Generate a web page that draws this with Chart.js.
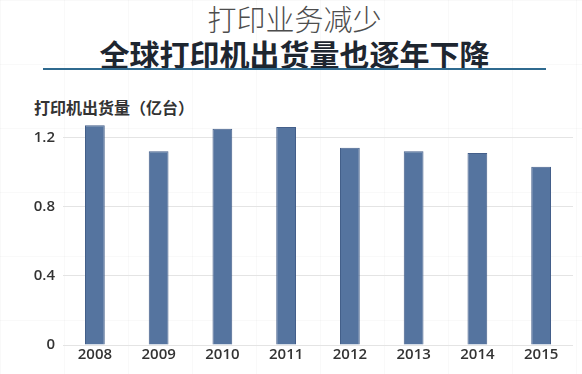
<!DOCTYPE html>
<html>
<head>
<meta charset="utf-8">
<script src="https://cdn.jsdelivr.net/npm/chart.js@4/dist/chart.umd.min.js"></script>
<style>
    body {
        margin: 0;
        width: 582px;
        height: 374px;
        overflow: hidden;
        background-color: #fff;
        background-image:
            linear-gradient(rgba(0,0,0,0.025) 1px, transparent 1px),
            linear-gradient(90deg, rgba(0,0,0,0.025) 1px, transparent 1px);
        background-size: 64px 64px;
        font-family: "Noto Sans CJK SC", "Noto Sans", sans-serif;
        position: relative;
    }
    .title {
        position: absolute;
        left: 0; width: 589px;
        text-align: center;
        white-space: nowrap;
    }
    #t1 { top: -3px; font-size: 29px; color: #4d4d4d; font-weight: 300; }
    #t2 { top: 31px; font-size: 30px; color: #1e2630; font-weight: 700; }
    #rule {
        position: absolute;
        left: 43px; top: 68px;
        width: 503px; height: 2px;
        background: #2f6a8f;
    }
    #yTitle {
        position: absolute;
        left: 34px; top: 95px;
        font-size: 16px; font-weight: 700; color: #333;
        white-space: nowrap;
    }
    #wrap { position: absolute; left: 0; top: 0; width: 582px; height: 374px; }
</style>
</head>
<body>
<div class="title" id="t1">打印业务减少</div>
<div class="title" id="t2">全球打印机出货量也逐年下降</div>
<div id="rule"></div>
<div id="yTitle">打印机出货量（亿台）</div>
<div id="wrap"><canvas id="chart" width="582" height="374"></canvas></div>

<script>
// 全球打印机出货量（亿台）
const years = ['2008', '2009', '2010', '2011', '2012', '2013', '2014', '2015'];
const shipments = [1.27, 1.12, 1.25, 1.26, 1.14, 1.12, 1.11, 1.03];
const yTicks = [0, 0.4, 0.8, 1.2];

const ctx = document.getElementById('chart').getContext('2d');

new Chart(ctx, {
    type: 'bar',
    data: {
        labels: years,
        datasets: [{
            data: shipments,
            backgroundColor: '#55749f',
            borderColor: '#445f8a',
            borderWidth: 1,
            categoryPercentage: 1,
            barPercentage: 0.31
        }]
    },
    options: {
        responsive: false,
        animation: false,
        layout: { padding: { top: 120, right: 9, left: 0, bottom: 0 } },
        plugins: {
            legend: { display: false },
            tooltip: { enabled: false }
        },
        scales: {
            x: {
                grid: { display: false, drawTicks: false },
                border: { display: false },
                ticks: {
                    color: '#333',
                    padding: 1,
                    font: { family: '"Open Sans", sans-serif', size: 15, weight: '600' }
                },
                afterFit: s => { s.height = 29; }
            },
            y: {
                min: 0,
                max: 1.3,
                grid: { color: '#e4e4e4', drawTicks: false },
                border: { display: false },
                ticks: {
                    color: '#333',
                    padding: 8,
                    font: { family: '"Open Sans", sans-serif', size: 15, weight: '600' },
                    callback: v => String(v)
                },
                afterBuildTicks: axis => { axis.ticks = yTicks.map(v => ({ value: v })); },
                afterFit: s => { s.width = 63; }
            }
        }
    }
});
</script>
</body>
</html>
